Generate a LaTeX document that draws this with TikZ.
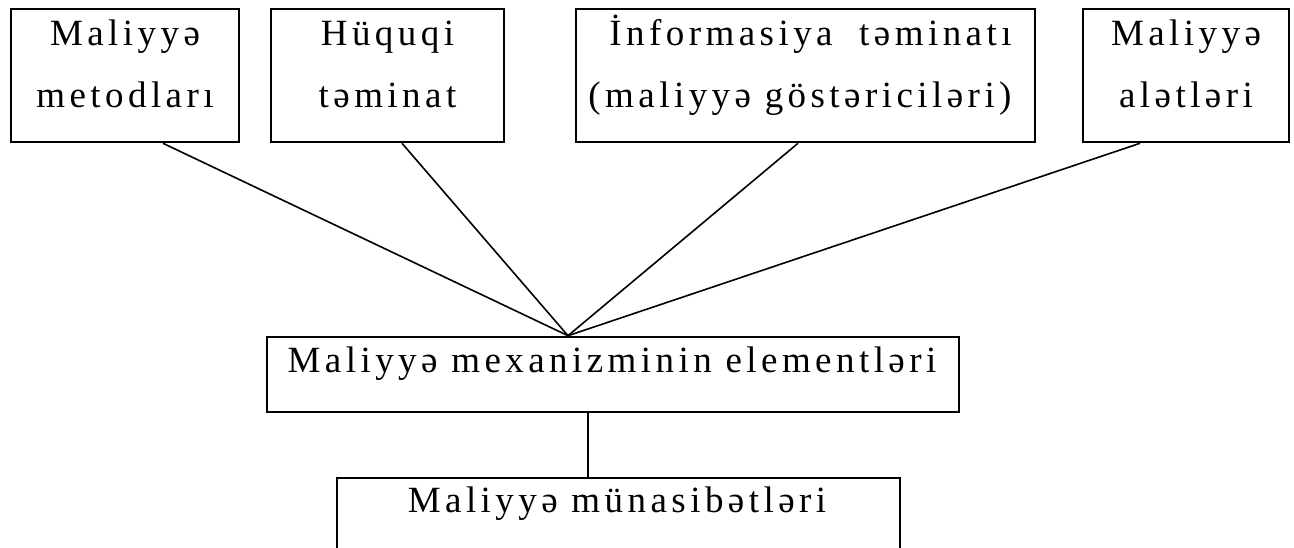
\documentclass[tikz,border=0pt]{standalone}
\usepackage{fontspec}
\setmainfont{Liberation Serif}[LetterSpace=12]
\newlength\infowd
\begin{document}
\begin{tikzpicture}[x=1pt,y=-1pt,
  box/.style={draw,line width=2.6pt,inner sep=0pt},
  txt/.style={inner sep=0pt,align=center,anchor=base,font=\fontsize{37}{62}\selectfont},
  link/.style={line width=1.6pt}]
\clip (0,0) rectangle (1294,548);
\fill[white] (0,0) rectangle (1294,548);

% upper row of boxes
\node[box,minimum width=228,minimum height=133] (b1) at (125,75.5) {};
\node[box,minimum width=233,minimum height=133] (b2) at (387.5,75.5) {};
\node[box,minimum width=459,minimum height=133] (b3) at (805.5,75.5) {};
\node[box,minimum width=206,minimum height=133] (b4) at (1186,75.5) {};

% middle and bottom boxes (the bottom one runs past the lower edge)
\node[box,minimum width=692,minimum height=75] (mid) at (613,374.5) {};
\node[box,minimum width=563,minimum height=120] (bot) at (618.5,538) {};

% texts (anchored on the baseline of their last line)
\node[txt] (t1) at (125,108) {Maliyyə\\metodları};
\node[txt] (t2) at (387.5,108) {Hüquqi\\təminat};
\node[txt] (t3) at (800,108) {\settowidth{\infowd}{(maliyyə göstəriciləri)}%
  \makebox[\infowd][l]{\hspace{21pt}İnformasiya\hfill təminatı}\\(maliyyə göstəriciləri)};
\node[txt] (t4) at (1186,108) {Maliyyə\\alətləri};
\node[txt] (tm) at (612,372) {Maliyyə mexanizminin elementləri};
\node[txt] (tb) at (617,512) {Maliyyə münasibətləri};

% connectors
\coordinate (hub) at ([xshift=-45pt]mid.north);
\draw[link] ([xshift=38pt]b1.south) -- (hub);
\draw[link] ([xshift=14.5pt]b2.south) -- (hub);
\draw[link] ([xshift=-7.5pt]b3.south) -- (hub);
\draw[link] ([xshift=-46pt]b4.south) -- (hub);
\draw[link] ([xshift=-25pt]mid.south) -- ([xshift=-25pt]mid.south |- bot.north);
\end{tikzpicture}
\end{document}
